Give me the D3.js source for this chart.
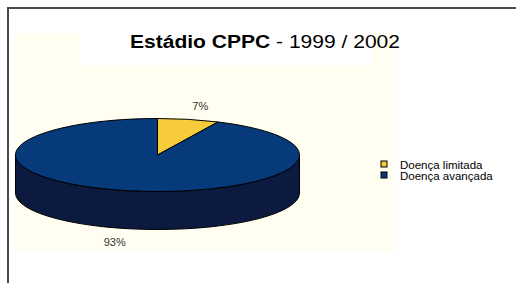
<!DOCTYPE html>
<head>
  <meta charset="utf-8">
  <title>Estádio CPPC</title>
  <script src="https://d3js.org/d3.v7.min.js"></script>
  <style>
    body { margin: 0; background: #fff; }
    text { font-family: "Liberation Sans", Arial, Helvetica, sans-serif; }
  </style>
</head>
<body>
  <div id="chart"></div>
  <script>
    // Daten
    var categories = ['Doença limitada', 'Doença avançada'];
    var values = [7, 93];
    var labels = ['7%', '93%'];
    var colors = ['#f6cb3c', '#073a7b'];
    var sideColors = ['#a8861f', '#0b1a3e'];

    var width = 516, height = 283;

    var svg = d3.select('#chart').append('svg')
      .attr('width', width)
      .attr('height', height);

    // Hintergrund der Zeichenfläche
    svg.append('rect').attr('x', 14).attr('y', 33).attr('width', 379).attr('height', 218)
      .attr('fill', '#fffef0');
    svg.append('rect').attr('x', 80).attr('y', 33).attr('width', 292).attr('height', 32)
      .attr('fill', '#fff');

    // Rahmen
    svg.append('path').attr('d', 'M8,' + height + 'V8H' + width)
      .attr('fill', 'none').attr('stroke', '#4a4a4a').attr('stroke-width', 2);

    // Titel
    var title = svg.append('text').attr('x', 265).attr('y', 48)
      .attr('text-anchor', 'middle')
      .attr('textLength', 270)
      .attr('lengthAdjust', 'spacingAndGlyphs')
      .style('font-size', '18px').attr('fill', '#000');
    title.append('tspan').style('font-weight', 'bold').text('Estádio CPPC');
    title.append('tspan').text(' - 1999 / 2002');

    // 3D-Kuchen
    var cx = 157.5, cy = 155, rx = 142, ry = 36.5, depth = 38;

    var pie = d3.pie().sort(null).value(function (d) { return d; });
    var arcs = pie(values);

    function px(a) { return cx + rx * Math.sin(a); }
    function py(a) { return cy - ry * Math.cos(a); }

    function topPath(d) {
      var large = (d.endAngle - d.startAngle) > Math.PI ? 1 : 0;
      return 'M' + cx + ',' + cy +
        'L' + px(d.startAngle) + ',' + py(d.startAngle) +
        'A' + rx + ',' + ry + ' 0 ' + large + ' 1 ' + px(d.endAngle) + ',' + py(d.endAngle) + 'Z';
    }

    function sidePath(d) {
      var a0 = Math.max(d.startAngle, Math.PI / 2);
      var a1 = Math.min(d.endAngle, Math.PI * 3 / 2);
      if (a1 <= a0) return null;
      var large = (a1 - a0) > Math.PI ? 1 : 0;
      return 'M' + px(a0) + ',' + py(a0) +
        'A' + rx + ',' + ry + ' 0 ' + large + ' 1 ' + px(a1) + ',' + py(a1) +
        'L' + px(a1) + ',' + (py(a1) + depth) +
        'A' + rx + ',' + ry + ' 0 ' + large + ' 0 ' + px(a0) + ',' + (py(a0) + depth) + 'Z';
    }

    var g = svg.append('g');

    g.selectAll('path.side')
      .data(arcs.filter(function (d) { return sidePath(d) !== null; }))
      .enter().append('path')
        .attr('class', 'side')
        .attr('d', sidePath)
        .attr('fill', function (d) { return sideColors[d.index]; })
        .attr('stroke', '#000')
        .attr('stroke-width', 1);

    g.selectAll('path.top')
      .data(arcs)
      .enter().append('path')
        .attr('class', 'top')
        .attr('d', topPath)
        .attr('fill', function (d) { return colors[d.index]; })
        .attr('stroke', '#000')
        .attr('stroke-width', 1);

    // Prozentwerte
    var k = 1.38;
    g.selectAll('text.label')
      .data(arcs)
      .enter().append('text')
        .attr('class', 'label')
        .attr('x', function (d) {
          var m = (d.startAngle + d.endAngle) / 2;
          return cx + rx * k * Math.sin(m);
        })
        .attr('y', function (d) {
          var m = (d.startAngle + d.endAngle) / 2;
          var y = cy - ry * k * Math.cos(m);
          if (Math.cos(m) < 0) y += depth;
          return y + 4;
        })
        .attr('text-anchor', 'middle')
        .style('font-size', '11px')
        .attr('fill', '#333')
        .text(function (d) { return labels[d.index]; });

    // Legende
    var legend = svg.append('g').attr('transform', 'translate(381,161)');
    var item = legend.selectAll('g')
      .data(categories)
      .enter().append('g')
        .attr('transform', function (d, i) { return 'translate(0,' + (i * 11) + ')'; });
    item.append('rect')
      .attr('width', 6).attr('height', 6)
      .attr('fill', function (d, i) { return colors[i]; })
      .attr('stroke', '#000').attr('stroke-width', 1);
    item.append('text')
      .attr('x', 19).attr('y', 7.5)
      .style('font-size', '11.5px')
      .attr('fill', '#000')
      .text(function (d) { return d; });
  </script>
</body>
